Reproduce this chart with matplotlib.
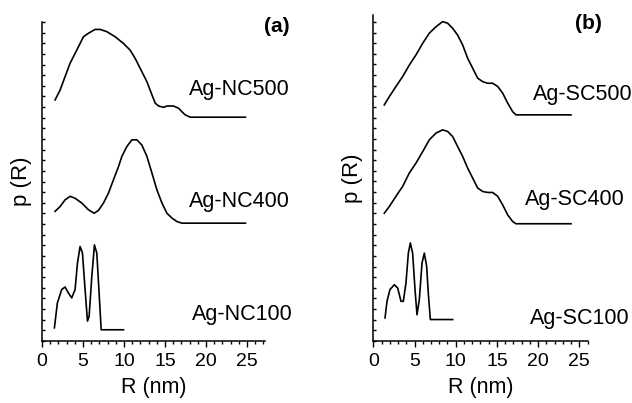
import matplotlib.pyplot as plt
import numpy as np
from matplotlib.ticker import MultipleLocator, NullFormatter

plt.rcParams['font.family'] = ['Liberation Sans', 'DejaVu Sans']

# panel (a) curves, R in nm, p(R) in arbitrary units (offset stacked)
nc500_r = [1.59, 2.20, 2.81, 3.42, 4.23, 5.05, 5.66, 6.47, 7.08, 7.90, 8.92, 9.93,
           10.75, 11.36, 11.97, 12.79, 13.40, 13.80, 14.21, 14.82, 15.23, 16.04,
           16.65, 17.06, 17.47, 18.08, 24.80]
nc500_p = [75.5, 78.6, 82.8, 87.0, 91.1, 95.3, 96.4, 97.6, 97.6, 96.9, 95.3, 93.2,
           91.1, 88.5, 85.4, 81.2, 77.1, 74.5, 73.6, 73.2, 73.6, 73.6,
           72.9, 71.8, 70.8, 70.1, 70.1]

nc400_r = [1.59, 2.20, 2.81, 3.42, 4.03, 4.85, 5.66, 6.35, 6.88, 7.49, 8.10, 8.71,
           9.32, 9.73, 10.34, 10.95, 11.56, 12.17, 12.79, 13.40, 14.01, 14.62,
           15.23, 15.84, 16.45, 17.06, 24.80]
nc400_p = [40.6, 42.1, 44.2, 45.3, 44.7, 43.2, 41.1, 40.0, 40.9, 43.2, 46.3, 50.5,
           54.6, 57.8, 60.9, 63.0, 63.0, 61.4, 57.8, 52.6, 47.3, 43.2,
           40.0, 38.5, 37.4, 36.9, 36.9]

nc100_r = [1.51, 1.87, 2.40, 2.81, 3.22, 3.62, 4.03, 4.32, 4.64, 4.93, 5.25, 5.54,
           5.74, 6.07, 6.39, 6.68, 6.96, 7.21, 9.93]
nc100_p = [4.1, 11.9, 16.1, 16.9, 15.0, 13.5, 16.1, 24.4, 29.6, 27.5, 16.1, 6.2,
           7.7, 20.2, 30.1, 27.5, 15.0, 3.5, 3.5]

# panel (b) curves
sc500_r = [1.33, 1.94, 2.75, 3.56, 4.37, 5.18, 5.99, 6.80, 7.61, 8.41, 9.02, 9.63,
           10.23, 10.84, 11.45, 12.06, 12.66, 13.27, 13.88, 14.48, 15.09, 15.70,
           16.30, 16.91, 17.31, 23.99]
sc500_p = [73.9, 76.5, 79.7, 82.8, 86.4, 89.6, 93.2, 96.4, 98.4, 100.0, 99.5, 97.9,
           95.8, 92.7, 88.5, 85.4, 82.3, 81.2, 80.7, 80.7, 79.7, 77.6,
           74.5, 71.8, 70.8, 70.8]

sc400_r = sc500_r
sc400_p = [40.0, 42.1, 45.3, 48.4, 52.6, 55.7, 59.3, 63.0, 65.1, 66.1, 65.6, 64.0,
           60.9, 57.8, 54.1, 51.0, 47.9, 46.8, 46.5, 46.5, 45.3, 42.6,
           39.5, 37.4, 36.7, 36.7]

sc100_r = [1.42, 1.66, 2.02, 2.55, 2.95, 3.36, 3.64, 3.96, 4.25, 4.49, 4.77, 5.06,
           5.30, 5.58, 5.91, 6.19, 6.47, 6.67, 6.92, 9.63]
sc100_p = [7.2, 12.4, 16.1, 17.6, 16.6, 12.4, 12.4, 18.1, 27.5, 30.7, 27.5, 16.1,
           8.2, 12.9, 24.4, 27.5, 23.4, 15.0, 6.7, 6.7]

labels_a = ['Ag-NC500', 'Ag-NC400', 'Ag-NC100']
labels_b = ['Ag-SC500', 'Ag-SC400', 'Ag-SC100']
label_pos_a = [(24.1, 78.8), (24.1, 43.7), (24.4, 8.2)]
label_pos_b = [(25.4, 77.3), (24.5, 44.2), (25.0, 6.9)]

fig = plt.figure(figsize=(6.32, 4.03), dpi=100)
ax_a = fig.add_axes([0.0665, 0.154, 0.353, 0.792])
ax_b = fig.add_axes([0.5907, 0.154, 0.339, 0.809])


def style_axis(ax, xmax, ymax):
    ax.set_xlim(0, xmax)
    ax.set_ylim(0, ymax)
    for s in ['top', 'right']:
        ax.spines[s].set_visible(False)
    for s in ['left', 'bottom']:
        ax.spines[s].set_linewidth(1.1)
    ax.xaxis.set_major_locator(MultipleLocator(5))
    ax.xaxis.set_minor_locator(MultipleLocator(1))
    ax.yaxis.set_major_locator(MultipleLocator(3.33))
    ax.yaxis.set_major_formatter(NullFormatter())
    ax.tick_params(axis='x', which='major', direction='out', length=4, width=1,
                   labelsize=14, pad=5)
    ax.tick_params(axis='x', which='minor', direction='out', length=2.5, width=1)
    ax.tick_params(axis='y', which='major', direction='in', length=2.5, width=1)
    ax.set_xlabel('R (nm)', fontsize=15.5, labelpad=5)
    ax.set_ylabel('p (R)', fontsize=16, labelpad=4)


style_axis(ax_a, 27.2, 100)
style_axis(ax_b, 26.0, 102.1)

for r, p in [(nc500_r, nc500_p), (nc400_r, nc400_p), (nc100_r, nc100_p)]:
    ax_a.plot(r, p, color='black', lw=1.2, solid_joinstyle='round')
for r, p in [(sc500_r, sc500_p), (sc400_r, sc400_p), (sc100_r, sc100_p)]:
    ax_b.plot(r, p, color='black', lw=1.2, solid_joinstyle='round')

for lab, (x, y) in zip(labels_a, label_pos_a):
    ax_a.text(x, y, lab, fontsize=15.5, ha='center', va='center', clip_on=False)
for lab, (x, y) in zip(labels_b, label_pos_b):
    ax_b.text(x, y, lab, fontsize=15.5, ha='center', va='center', clip_on=False)

ax_a.text(28.6, 98.4, '(a)', fontsize=15, fontweight='bold', ha='center', va='center',
          clip_on=False)
ax_b.text(26.1, 99.5, '(b)', fontsize=15, fontweight='bold', ha='center', va='center',
          clip_on=False)

fig.savefig('out.png', dpi=100)
